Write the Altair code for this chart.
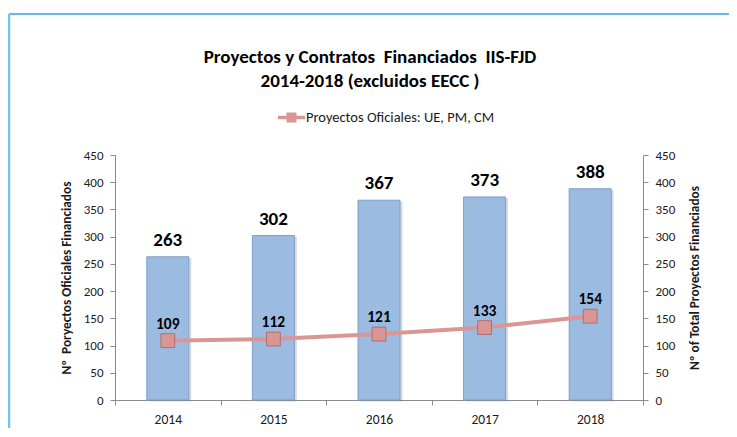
import altair as alt
import pandas as pd

# ---- data ----
years = ["2014", "2015", "2016", "2017", "2018"]
total_proyectos = [263, 302, 367, 373, 388]
proyectos_oficiales = [109, 112, 121, 133, 154]
serie_nombre = "Proyectos Oficiales: UE, PM, CM"
y_ticks = [0, 50, 100, 150, 200, 250, 300, 350, 400, 450]
titulo = ["Proyectos y Contratos\u00a0 Financiados\u00a0 IIS-FJD", "2014-2018 (excluidos EECC )"]
titulo_izq = "Nº\u00a0 Poryectos Oficiales Financiados"
titulo_der = "Nº of Total Proyectos Financiados"

df = pd.DataFrame({
    "year": years,
    "total": total_proyectos,
    "oficiales": proyectos_oficiales,
    "serie": [serie_nombre] * len(years),
})

FONT = "Carlito, Lato, sans-serif"
W, H = 528, 245
AX = "#8A8A8A"
TXT = "#1a1a1a"
PINK = "#D99694"
BLUE = "#9BBBE1"

x_enc = alt.X(
    "year:O",
    scale=alt.Scale(paddingInner=0, paddingOuter=0),
    axis=alt.Axis(title=None, labelAngle=0, tickBand="extent", tickSize=5,
                  labelPadding=7, domainColor=AX, tickColor=AX,
                  labelFont=FONT, labelFontSize=13.5, labelColor=TXT),
)

def y_axis(orient, title, tx):
    return alt.Axis(orient=orient, values=y_ticks, title=title, grid=False,
                    tickSize=5, labelPadding=7, domainColor=AX, tickColor=AX,
                    labelFont=FONT, labelFontSize=13, labelColor=TXT,
                    titleFont=FONT, titleFontSize=13.3, titleFontWeight="bold",
                    titleColor=TXT, titleAngle=270, titleBaseline="middle",
                    titleX=tx, titleY=H / 2, titleLimit=0)

scale_y = alt.Scale(domain=[0, 450], nice=False, zero=True)
y_right = alt.Y("total:Q", scale=scale_y, axis=y_axis("right", titulo_der, 51))
y_left = alt.Y("oficiales:Q", scale=scale_y, axis=y_axis("left", titulo_izq, -49))

base = alt.Chart(df)

shadow = base.mark_bar(size=42, color="#6f6f6f", opacity=0.25, xOffset=2.5, yOffset=1.5).encode(x=x_enc, y=y_right)
bars = base.mark_bar(size=42, color=BLUE, stroke="#7F9DC6", strokeWidth=1).encode(x=x_enc, y=y_right)
bar_labels = base.mark_text(font=FONT, fontSize=19, fontWeight="bold", baseline="alphabetic",
                            dy=-11, color="#000").encode(x=x_enc, y=y_right, text="total:Q")
bars_group = alt.layer(shadow, bars, bar_labels)

line = base.mark_line(color=PINK, strokeWidth=4).encode(x=x_enc, y=y_left)
legend_symbol = "M-1,-0.13H1V0.13H-1Z M-0.37,-0.37H0.37V0.37H-0.37Z"
points = base.mark_point(filled=True, shape="square", size=190, opacity=1,
                         stroke="#B3605D", strokeWidth=0.8).encode(
    x=x_enc, y=y_left,
    fill=alt.Fill("serie:N", scale=alt.Scale(range=[PINK]),
                  legend=alt.Legend(title=None, orient="none", legendX=163, legendY=-51,
                                    symbolType=legend_symbol, symbolSize=729,
                                    symbolStrokeWidth=0, padding=0, labelOffset=1,
                                    labelLimit=0,
                                    labelFont=FONT, labelFontSize=14.5, labelColor=TXT)),
)
point_labels = base.mark_text(font=FONT, fontSize=15.5, fontWeight="bold", baseline="alphabetic",
                              dy=-12, color="#000").encode(x=x_enc, y=y_left, text="oficiales:Q")
line_group = alt.layer(line, points, point_labels)

one = alt.Data(values=[{"k": 1}])
frame_top = alt.Chart(one).mark_rule(color="#2FA6D6", strokeWidth=1.5).encode(
    x=alt.value(-106), x2=alt.value(700), y=alt.value(-141))
frame_left = alt.Chart(one).mark_rule(color="#72C3E4", strokeWidth=2.5).encode(
    x=alt.value(-106), y=alt.value(-141), y2=alt.value(300))
title_1 = alt.Chart(one).mark_text(font=FONT, fontSize=19, fontWeight="bold", color="#000",
                                   align="center", baseline="alphabetic").encode(
    x=alt.value(255), y=alt.value(-92), text=alt.value(titulo[0]))
title_2 = alt.Chart(one).mark_text(font=FONT, fontSize=19, fontWeight="bold", color="#000",
                                   align="center", baseline="alphabetic").encode(
    x=alt.value(255), y=alt.value(-68), text=alt.value(titulo[1]))

chart = alt.layer(frame_top, frame_left, title_1, title_2, bars_group, line_group).resolve_scale(
    y="independent"
).properties(
    width=W, height=H,
    autosize=alt.AutoSizeParams(type="none"),
    padding={"left": 107, "top": 147, "right": 86, "bottom": 28},
    background="white",
).configure_view(stroke=None)

chart.save("out.html", embed_options={"renderer": "svg", "actions": False})
